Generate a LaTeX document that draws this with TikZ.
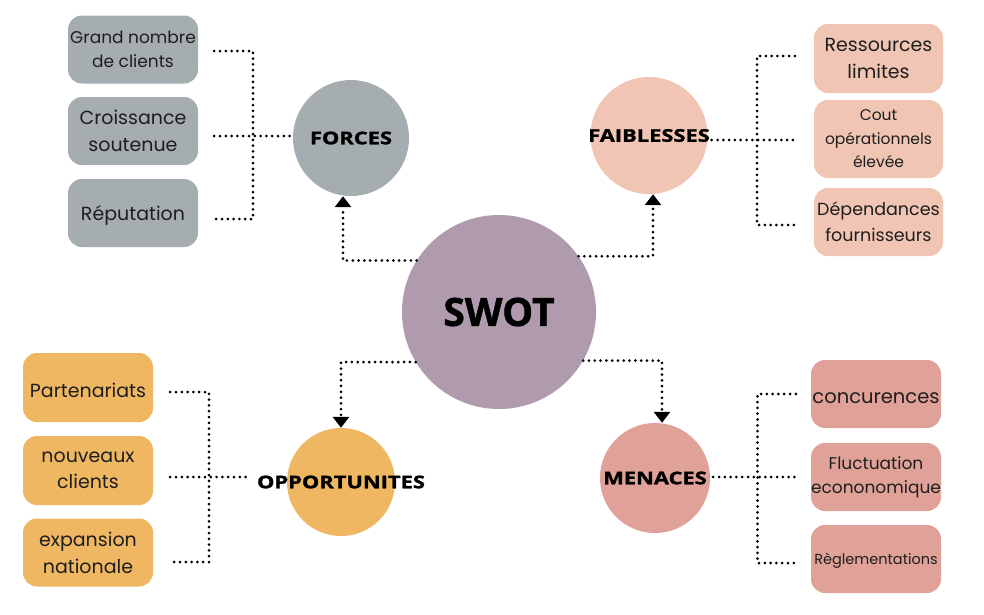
\documentclass[tikz,border=0pt]{standalone}
\usepackage{fontspec}
\setmainfont{Poppins}
\newfontfamily\hubfont{Open Sans}[FakeBold=1.2]
\newfontfamily\widehub{Open Sans}[FakeStretch=1.25,FakeBold=1.5]
\usetikzlibrary{arrows.meta,calc}

\definecolor{swotc}{HTML}{B09BAE}
\definecolor{forc}{HTML}{A5ADB0}
\definecolor{faic}{HTML}{F0C5B4}
\definecolor{oppc}{HTML}{EFB762}
\definecolor{menc}{HTML}{E0A298}
\definecolor{ink}{HTML}{1E1E1E}

\tikzset{
  itembox/.style={rounded corners=14pt, minimum width=130pt, minimum height=68pt,
    align=center, text=ink, inner sep=0pt,
    execute at begin node={\rule{0pt}{1.02em}}},
  hub/.style={circle, inner sep=0pt, draw=none},
  hublabel/.style={inner sep=0pt, font=\widehub\bfseries\fontsize{17.5}{20}\selectfont},
  dotline/.style={line width=3pt, dash pattern=on 0pt off 5.8pt, line cap=round},
  arrowline/.style={dotline, -{Triangle[width=16pt,length=11pt]}},
  fs/.style 2 args={font=\fontsize{#1}{#2}\selectfont}
}

\begin{document}
\begin{tikzpicture}[x=1pt,y=-1pt]
\useasboundingbox[fill=white] (0,0) rectangle (984,614);

% central circle
\node[hub, fill=swotc, minimum size=194pt,
      font=\hubfont\bfseries\fontsize{39}{40}\selectfont] (swot) at (499,312) {SWOT};

% four quadrant circles
\node[hub, fill=forc, minimum size=116pt] (forces) at (351,138) {};
\node[hublabel] (forcesl) at (forces) {FORCES};
\node[hub, fill=faic, minimum size=117pt] (faib) at (649,135.5) {};
\node[hublabel] (faibl) at (faib) {FAIBLESSES};
\node[hub, fill=oppc, minimum size=108pt] (opp) at (341,482) {};
\node[hublabel] (oppl) at (opp) {OPPORTUNITES};
\node[hub, fill=menc, minimum size=110pt] (men) at (655,478) {};
\node[hublabel] (menl) at (men) {MENACES};

% forces items
\node[itembox, fill=forc, fs={17}{23.5}] (f1) at (133,49.5) {Grand nombre\\de clients};
\node[itembox, fill=forc, fs={19}{27.5}] (f2) at (133,131) {Croissance\\soutenue};
\node[itembox, fill=forc, fs={19}{24}] (f3) at (133,213) {Réputation};

% faiblesses items
\node[itembox, fill=faic, fs={19}{26.5}, minimum width=129pt, minimum height=69pt] (w1) at (878.5,58.5) {Ressources\\limites};
\node[itembox, fill=faic, fs={15.5}{23.5}, minimum width=129pt, minimum height=78pt] (w2) at (878.5,139) {Cout\\opérationnels\\élevée};
\node[itembox, fill=faic, fs={17.5}{26.3}, minimum width=129pt] (w3) at (878.5,222) {Dépendances\\fournisseurs};

% opportunites items
\node[itembox, fill=oppc, fs={19}{24}, minimum height=69pt] (o1) at (88,387.5) {Partenariats};
\node[itembox, fill=oppc, fs={19}{26}, minimum height=69pt] (o2) at (88,470.5) {nouveaux\\clients};
\node[itembox, fill=oppc, fs={19}{27}] (o3) at (88,552.5) {expansion\\nationale};

% menaces items
\node[itembox, fill=menc, fs={19.5}{24}] (m1) at (876,394) {concurences};
\node[itembox, fill=menc, fs={17}{24}] (m2) at (876,477) {Fluctuation\\econonomique};
\node[itembox, fill=menc, fs={14.5}{20}] (m3) at (876,559) {Règlementations};

% line ends next to the item boxes
\coordinate (fa) at ([shift={(16,1.5)}]f1.east);
\coordinate (fb) at ([shift={(16,5)}]f2.east);
\coordinate (fc) at ([shift={(16,6)}]f3.east);
\coordinate (ftr) at (253,136);

\coordinate (wa) at ([shift={(-19,-2.5)}]w1.west);
\coordinate (wb) at ([shift={(-19,1)}]w2.west);
\coordinate (wc) at ([shift={(-19,3)}]w3.west);
\coordinate (wtr) at (757,140);

\coordinate (oa) at ([shift={(17,4.5)}]o1.east);
\coordinate (ob) at ([shift={(17,6.5)}]o2.east);
\coordinate (oc) at ([shift={(17,9.5)}]o3.east);
\coordinate (otr) at (209,477);

\coordinate (ma) at ([shift={(-15,0)}]m1.west);
\coordinate (mb) at ([shift={(-15,0)}]m2.west);
\coordinate (mc) at ([shift={(-15,4)}]m3.west);
\coordinate (mtr) at (757.5,477);

% brackets joining items to their circle
\draw[dotline] (fa) -| (ftr) |- (fc);
\draw[dotline] (fb) -- (fb -| forces.west);

\draw[dotline] (wa) -| (wtr) |- (wc);
\draw[dotline] ([xshift=4pt]wb -| faib.east) -- (wb);

\draw[dotline] (oa) -| (otr) |- (oc);
\draw[dotline] (ob) -- ([xshift=-8pt]oppl.west |- ob);

\draw[dotline] (ma) -| (mtr) |- (mc);
\draw[dotline] ([xshift=3pt]mb -| men.east) -- (mb);

% arrows from the centre
\draw[arrowline] (swot.148) -| ([xshift=-8pt]forces.south);
\draw[arrowline] (swot.35) -| ([xshift=4pt]faib.south);
\draw[arrowline] (swot.211.5) -| (opp.north);
\draw[arrowline] (swot.330) -| ([xshift=7pt]men.north);
\end{tikzpicture}
\end{document}
